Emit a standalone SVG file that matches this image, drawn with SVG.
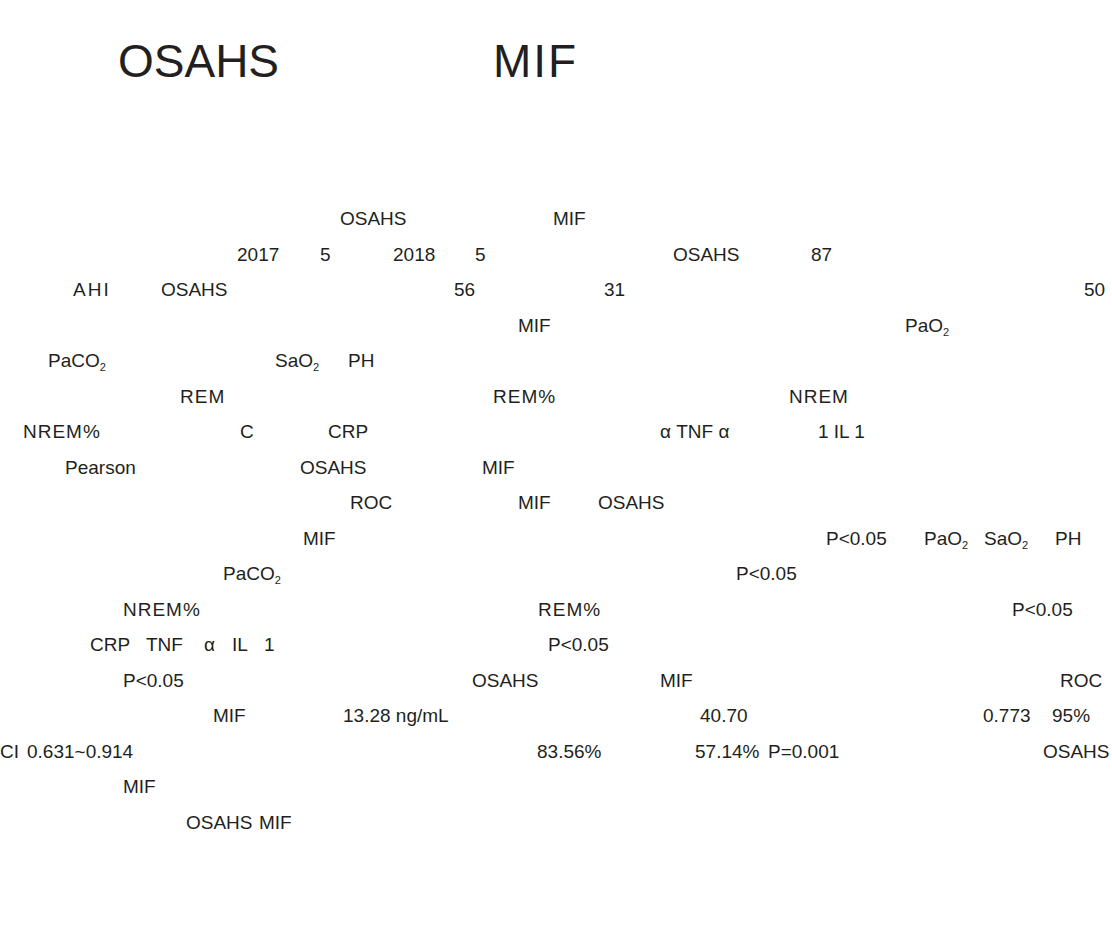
<svg xmlns="http://www.w3.org/2000/svg" width="1112" height="930" viewBox="0 0 1112 930">
<style>
text{font-family:"Liberation Sans","Noto Sans CJK SC",sans-serif;fill:#231f20;}
.t{font-size:46px;}
.b{font-size:19px;}
.s{font-size:11px;}
</style>
<rect width="1112" height="930" fill="#ffffff"/>
<g id="title">
<text class="t" x="118" y="77">OSAHS</text>
<text class="t" x="493" y="77" letter-spacing="2">MIF</text>
</g>
<g id="body">
<text class="b" x="340" y="225">OSAHS</text><text class="b" x="553" y="225">MIF</text>
<text class="b" x="237" y="261">2017</text><text class="b" x="320" y="261">5</text><text class="b" x="393" y="261">2018</text><text class="b" x="475" y="261">5</text><text class="b" x="673" y="261">OSAHS</text><text class="b" x="811" y="261">87</text>
<text class="b" x="73" y="296" letter-spacing="2">AHI</text><text class="b" x="161" y="296">OSAHS</text><text class="b" x="454" y="296">56</text><text class="b" x="604" y="296">31</text><text class="b" x="1084" y="296">50</text>
<text class="b" x="518" y="332">MIF</text><text class="b" x="905" y="332">PaO<tspan class="s" dy="4">2</tspan></text>
<text class="b" x="48" y="367">PaCO<tspan class="s" dy="4">2</tspan></text><text class="b" x="275" y="367">SaO<tspan class="s" dy="4">2</tspan></text><text class="b" x="348" y="367">PH</text>
<text class="b" x="180" y="403" letter-spacing="1">REM</text><text class="b" x="493" y="403" letter-spacing="1">REM%</text><text class="b" x="789" y="403" letter-spacing="1">NREM</text>
<text class="b" x="23" y="438" letter-spacing="1">NREM%</text><text class="b" x="240" y="438">C</text><text class="b" x="328" y="438">CRP</text><text class="b" x="660" y="438">α  TNF α</text><text class="b" x="818" y="438">1  IL  1</text>
<text class="b" x="65" y="474">Pearson</text><text class="b" x="300" y="474">OSAHS</text><text class="b" x="482" y="474">MIF</text>
<text class="b" x="350" y="509">ROC</text><text class="b" x="518" y="509">MIF</text><text class="b" x="598" y="509">OSAHS</text>
<text class="b" x="303" y="545">MIF</text><text class="b" x="826" y="545">P&lt;0.05</text><text class="b" x="924" y="545">PaO<tspan class="s" dy="4">2</tspan></text><text class="b" x="984" y="545">SaO<tspan class="s" dy="4">2</tspan></text><text class="b" x="1055" y="545">PH</text>
<text class="b" x="223" y="580">PaCO<tspan class="s" dy="4">2</tspan></text><text class="b" x="736" y="580">P&lt;0.05</text>
<text class="b" x="123" y="616" letter-spacing="1">NREM%</text><text class="b" x="538" y="616" letter-spacing="1">REM%</text><text class="b" x="1012" y="616">P&lt;0.05</text>
<text class="b" x="90" y="651">CRP</text><text class="b" x="146" y="651">TNF</text><text class="b" x="204" y="651">α</text><text class="b" x="232" y="651">IL</text><text class="b" x="264" y="651">1</text><text class="b" x="548" y="651">P&lt;0.05</text>
<text class="b" x="123" y="687">P&lt;0.05</text><text class="b" x="472" y="687">OSAHS</text><text class="b" x="660" y="687">MIF</text><text class="b" x="1060" y="687">ROC</text>
<text class="b" x="213" y="722">MIF</text><text class="b" x="343" y="722">13.28 ng/mL</text><text class="b" x="700" y="722">40.70</text><text class="b" x="983" y="722">0.773</text><text class="b" x="1052" y="722">95%</text>
<text class="b" x="0" y="758">CI</text><text class="b" x="27" y="758">0.631~0.914</text><text class="b" x="537" y="758">83.56%</text><text class="b" x="695" y="758">57.14%</text><text class="b" x="768" y="758">P=0.001</text><text class="b" x="1043" y="758">OSAHS</text>
<text class="b" x="123" y="793">MIF</text>
<text class="b" x="186" y="829">OSAHS</text><text class="b" x="259" y="829">MIF</text>
</g>
</svg>
